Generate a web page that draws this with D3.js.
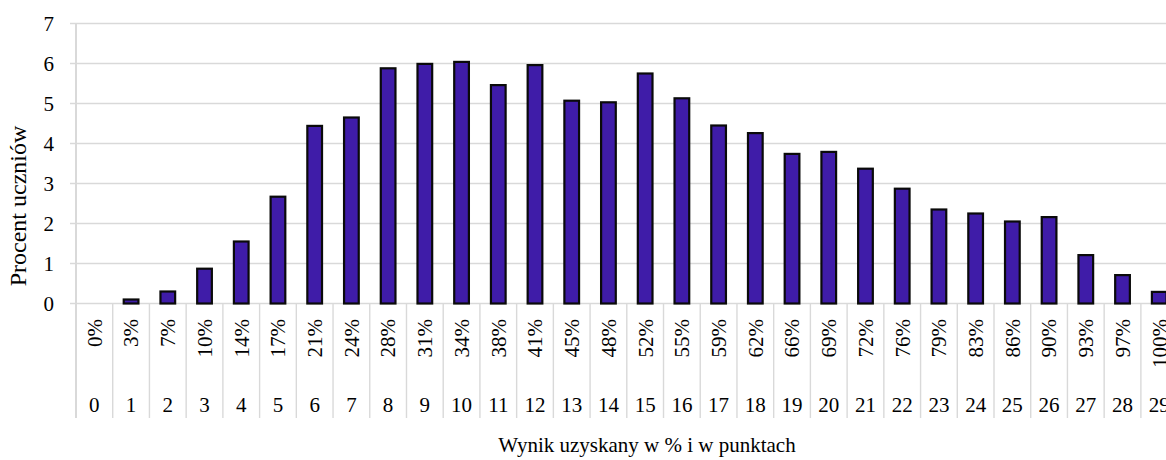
<html>
<head>
<style>
  body { margin: 0; overflow: hidden; background: #fff; }
  text { font-family: "Liberation Serif", "Times New Roman", serif; fill: #000; }
</style>
</head>
<body>
<div>
  <svg id="chart"></svg>
</div>
<script src="https://d3js.org/d3.v7.min.js" charset="utf-8"></script>
<script type="text/javascript">
// data
var points = d3.range(0, 30)
var percentLabels = ["0%", "3%", "7%", "10%", "14%", "17%", "21%", "24%", "28%", "31%",
                 "34%", "38%", "41%", "45%", "48%", "52%", "55%", "59%", "62%", "66%",
                 "69%", "72%", "76%", "79%", "83%", "86%", "90%", "93%", "97%", "100%"]
var values = [0, 0.1, 0.3, 0.87, 1.55, 2.67, 4.44, 4.65, 5.88, 5.99,
          6.04, 5.46, 5.96, 5.07, 5.03, 5.75, 5.13, 4.45, 4.26, 3.74,
          3.79, 3.37, 2.87, 2.35, 2.25, 2.05, 2.16, 1.21, 0.71, 0.29]
var yTicks = [0, 1, 2, 3, 4, 5, 6, 7]

// the chart is wider than the window, the last column gets cut like in the original
var width = 1200
var height = 460
var plotLeft = 76
var step = 36.72
var plotRight = plotLeft + step * points.length
var plotTop = 23.5
var plotBottom = 303.5

var svg = d3.select('#chart')
        .attr('width', width)
        .attr('height', height)

var x = d3.scaleBand()
      .domain(points)
      .range([plotLeft, plotRight])
      .paddingInner(0.6)
      .paddingOuter(0.3)

var y = d3.scaleLinear()
      .domain([0, 7])
      .range([plotBottom, plotTop])

// gridlines
svg.selectAll('line.grid')
   .data(yTicks)
   .enter()
   .append('line')
   .attr('x1', plotLeft - 6)
   .attr('x2', plotRight)
   .attr('y1', function(d) { return y(d) })
   .attr('y2', function(d) { return y(d) })
   .style('stroke', '#d9d9d9')
   .style('stroke-width', 1.4)

// left axis line
svg.append('line')
   .attr('x1', plotLeft).attr('x2', plotLeft)
   .attr('y1', y(7)).attr('y2', 418)
   .style('stroke', '#d9d9d9')
   .style('stroke-width', 2)

// category separators below the axis
svg.selectAll('line.sep')
   .data(points)
   .enter()
   .append('line')
   .attr('x1', function(d) { return x(d) + x.step() * 0.7 })
   .attr('x2', function(d) { return x(d) + x.step() * 0.7 })
   .attr('y1', plotBottom)
   .attr('y2', 418)
   .style('stroke', '#d9d9d9')
   .style('stroke-width', 1.4)

// y tick labels
svg.selectAll('text.ytick')
   .data(yTicks)
   .enter()
   .append('text')
   .attr('x', 54)
   .attr('y', function(d) { return y(d) })
   .attr('dy', '0.35em')
   .attr('text-anchor', 'end')
   .style('font-size', '21px')
   .text(function(d) { return d })

// bars (skip the empty one at 0 points)
var barData = values.map(function(v, i) { return { p: points[i], v: v } })
                    .filter(function(d) { return d.v > 0 })

svg.selectAll('rect.bar')
   .data(barData)
   .enter()
   .append('rect')
   .attr('x', function(d) { return x(d.p) })
   .attr('y', function(d) { return y(d.v) })
   .attr('width', x.bandwidth())
   .attr('height', function(d) { return y(0) - y(d.v) })
   .style('fill', '#3f1ca8')
   .style('stroke', '#0a0a0a')
   .style('stroke-width', 2.2)

// percent labels (rotated)
svg.selectAll('text.pct')
   .data(percentLabels)
   .enter()
   .append('text')
   .attr('transform', function(d, i) {
       return 'translate(' + (x(points[i]) + x.bandwidth() / 2) + ',319) rotate(-90)'
   })
   .attr('dy', '0.35em')
   .attr('text-anchor', 'end')
   .style('font-size', '21px')
   .text(function(d) { return d })

// point labels
svg.selectAll('text.pts')
   .data(points)
   .enter()
   .append('text')
   .attr('x', function(d) { return x(d) + x.bandwidth() / 2 })
   .attr('y', 412)
   .attr('text-anchor', 'middle')
   .style('font-size', '21px')
   .text(function(d) { return d })

// axis titles
svg.append('text')
   .attr('x', 647)
   .attr('y', 452)
   .attr('text-anchor', 'middle')
   .style('font-size', '21px')
   .text('Wynik uzyskany w % i w punktach')

svg.append('text')
   .attr('transform', 'translate(18,206) rotate(-90)')
   .attr('dy', '0.35em')
   .attr('text-anchor', 'middle')
   .style('font-size', '24px')
   .text('Procent uczniów')
</script>
</body>
</html>
